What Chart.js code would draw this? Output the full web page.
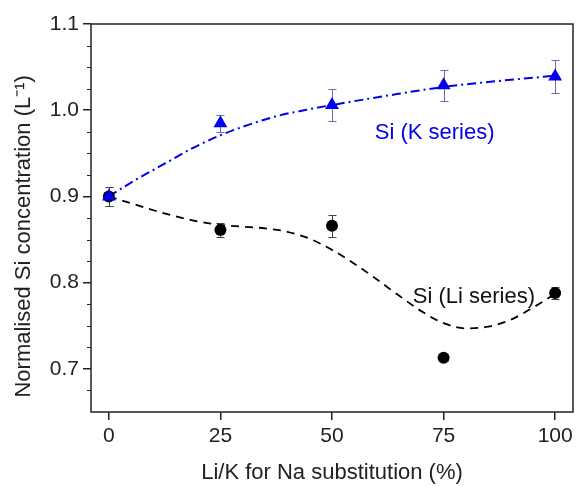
<!DOCTYPE html>
<html>
<head>
<meta charset="utf-8">
<script src="https://cdn.jsdelivr.net/npm/chart.js@4.4.1/dist/chart.umd.min.js"></script>
<style>
  body { margin: 0; background: #fff; }
  #wrap { width: 581px; height: 486px; }
</style>
</head>
<body>
<div id="wrap"><canvas id="siChart"></canvas></div>
<script>
// measured points
const substitution = [0, 25, 50, 75, 100];
const kSeries = [0.900, 0.985, 1.006, 1.029, 1.039];
const kError = [0.011, 0.010, 0.019, 0.018, 0.019];
const liSeries = [0.900, 0.861, 0.866, 0.713, 0.788];
const liError = [0.011, 0.008, 0.013, 0.004, 0.007];

// fitted guide curves
const kFitX = [0, 6.25, 12.5, 18.75, 25, 31.25, 37.5, 43.75, 50, 62.5, 75, 87.5, 100];
const kFitY = [0.900, 0.920, 0.938, 0.956, 0.971, 0.983, 0.993, 1.000, 1.006, 1.017, 1.027, 1.034, 1.040];
const liFitX = [0, 5, 10, 15, 20, 25, 30, 35, 40, 45, 50, 55, 60, 65, 70, 75, 80, 85, 90, 95, 100];
const liFitY = [0.900, 0.892, 0.884, 0.877, 0.871, 0.867, 0.865, 0.863, 0.859, 0.851, 0.838, 0.822, 0.804, 0.785, 0.767, 0.753, 0.747, 0.749, 0.757, 0.771, 0.787];

const xTicks = [0, 25, 50, 75, 100];
const yTicks = [0.7, 0.8, 0.9, 1.0, 1.1];
const yMinorTicks = [0.675, 0.725, 0.75, 0.775, 0.825, 0.85, 0.875, 0.925, 0.95, 0.975, 1.025, 1.05, 1.075];

const BLUE = '#0000ee';
const FONT = 'Liberation Sans, Arial, sans-serif';

const pts = (xs, ys) => xs.map((x, i) => ({ x: x, y: ys[i] }));

const errorBars = {
  id: 'errorBars',
  beforeDatasetsDraw(chart) {
    const ctx = chart.ctx;
    const xs = chart.scales.x, ys = chart.scales.y;
    const sets = [[kSeries, kError, '#6a6ab0'], [liSeries, liError, '#444']];
    ctx.save();
    ctx.lineWidth = 1;
    sets.forEach(([vals, errs, col]) => {
      ctx.strokeStyle = col;
      substitution.forEach((x, i) => {
        const px = Math.round(xs.getPixelForValue(x)) + 0.5;
        const top = Math.round(ys.getPixelForValue(vals[i] + errs[i])) + 0.5;
        const bot = Math.round(ys.getPixelForValue(vals[i] - errs[i])) + 0.5;
        ctx.beginPath();
        ctx.moveTo(px, top); ctx.lineTo(px, bot);
        ctx.moveTo(px - 4, top); ctx.lineTo(px + 4, top);
        ctx.moveTo(px - 4, bot); ctx.lineTo(px + 4, bot);
        ctx.stroke();
      });
    });
    ctx.restore();
  }
};

const frame = {
  id: 'frame',
  afterDraw(chart) {
    const ctx = chart.ctx, a = chart.chartArea;
    const ys = chart.scales.y;
    ctx.save();
    ctx.strokeStyle = '#222';
    ctx.lineWidth = 1.5;
    ctx.strokeRect(a.left, a.top, a.right - a.left, a.bottom - a.top);
    // minor ticks on the y axis
    ctx.lineWidth = 1;
    yMinorTicks.forEach(v => {
      const py = Math.round(ys.getPixelForValue(v)) + 0.5;
      ctx.beginPath();
      ctx.moveTo(a.left - 4, py); ctx.lineTo(a.left, py);
      ctx.stroke();
    });
    // series labels
    ctx.font = '22px ' + FONT;
    ctx.textAlign = 'center';
    ctx.textBaseline = 'middle';
    ctx.fillStyle = BLUE;
    ctx.fillText('Si (K series)', chart.scales.x.getPixelForValue(73), ys.getPixelForValue(0.974));
    ctx.fillStyle = '#111';
    ctx.fillText('Si (Li series)', chart.scales.x.getPixelForValue(81.8), ys.getPixelForValue(0.784));
    ctx.restore();
  }
};

new Chart(document.getElementById('siChart'), {
  type: 'scatter',
  data: {
    datasets: [
      {
        label: 'Si (K series)',
        data: pts(substitution, kSeries),
        pointStyle: 'triangle',
        pointRadius: 8,
        backgroundColor: BLUE,
        borderColor: BLUE,
        borderWidth: 0
      },
      {
        label: 'Si (Li series)',
        data: pts(substitution, liSeries),
        pointStyle: 'circle',
        pointRadius: 6,
        backgroundColor: '#000',
        borderColor: '#000',
        borderWidth: 0
      },
      {
        label: 'K fit',
        type: 'line',
        data: pts(kFitX, kFitY),
        showLine: true,
        pointRadius: 0,
        borderColor: BLUE,
        borderWidth: 2,
        borderDash: [9, 4, 2, 4],
        cubicInterpolationMode: 'monotone',
        fill: false
      },
      {
        label: 'Li fit',
        type: 'line',
        data: pts(liFitX, liFitY),
        showLine: true,
        pointRadius: 0,
        borderColor: '#000',
        borderWidth: 1.8,
        borderDash: [8, 6],
        cubicInterpolationMode: 'monotone',
        fill: false
      }
    ]
  },
  options: {
    responsive: true,
    maintainAspectRatio: false,
    animation: false,
    layout: { padding: { top: 24, right: 4, left: 0, bottom: 0 } },
    plugins: {
      legend: { display: false },
      tooltip: { enabled: false }
    },
    scales: {
      x: {
        type: 'linear',
        min: -4,
        max: 104,
        afterBuildTicks: s => { s.ticks = xTicks.map(v => ({ value: v })); },
        afterFit: s => { s.height = 74; },
        grid: { drawOnChartArea: false, tickLength: 8, color: '#222', lineWidth: 1.5 },
        border: { display: false },
        ticks: { color: '#222', padding: 4, font: { size: 21, family: FONT } },
        title: {
          display: true,
          text: 'Li/K for Na substitution (%)',
          color: '#222',
          font: { size: 22, family: FONT },
          padding: { top: 4, bottom: 0 }
        }
      },
      y: {
        min: 0.65,
        max: 1.1,
        afterBuildTicks: s => { s.ticks = yTicks.map(v => ({ value: v })); },
        afterFit: s => { s.width = 91; },
        grid: { drawOnChartArea: false, tickLength: 8, color: '#222', lineWidth: 1.5 },
        border: { display: false },
        ticks: { color: '#222', padding: 4, font: { size: 21, family: FONT }, callback: v => v.toFixed(1) },
        title: {
          display: true,
          // trailing spaces push the title down a little, as in the original
          text: 'Normalised Si concentration (L⁻¹)      ',
          color: '#222',
          font: { size: 22, family: FONT },
          padding: { top: 11, bottom: 4 }
        }
      }
    }
  },
  plugins: [errorBars, frame]
});
</script>
</body>
</html>
